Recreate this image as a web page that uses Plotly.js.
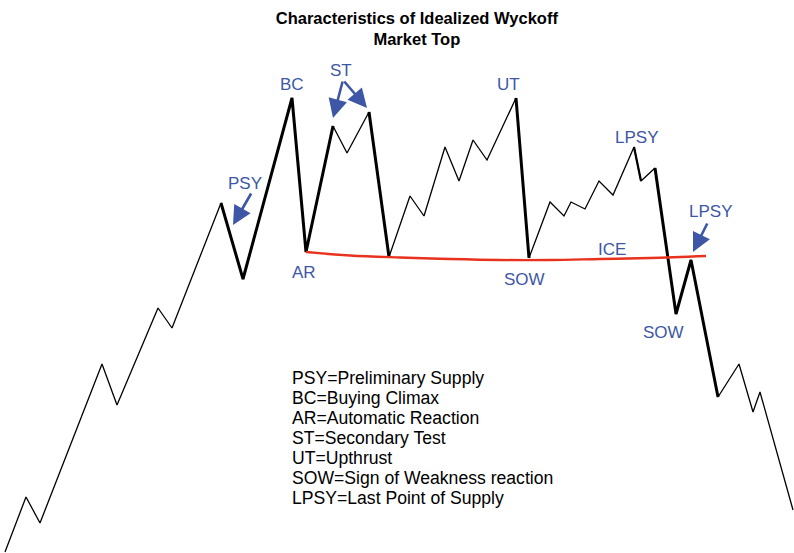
<!DOCTYPE html>
<html>
<head>
<meta charset="utf-8">
<script src="https://cdn.plot.ly/plotly-3.0.1.min.js"></script>
<style>
  html, body { margin: 0; padding: 0; background: #fff; }
  #chart { width: 794px; height: 553px; }
</style>
</head>
<body>
<div id="chart"></div>
<script>
// idealized price path (time, price)
const pathTime  = [5, 26, 40, 102, 117, 158, 172, 221, 243, 292, 306, 333, 347, 369, 389, 410, 424, 445, 459, 473, 487, 516, 529, 550, 564, 571, 585, 599, 613, 634, 641, 655, 676, 691, 718, 739, 753, 760, 793];
const pathPrice = [1, 56, 30, 189, 148, 245, 225, 350, 274, 455, 301, 427, 400, 441, 296, 357, 337, 406, 372, 413, 393, 455, 295, 351, 337, 351, 344, 372, 358, 406, 372, 385, 239, 293, 156, 189, 141, 161, 43];

// legs drawn heavy: [from index, to index, weight]
const heavyLegs = [[7, 11, 3], [13, 14, 3], [21, 22, 3], [29, 30, 2.2], [31, 34, 3]];

// ICE support line
const iceTime  = [306, 350, 400, 450, 500, 550, 600, 650, 706];
const icePrice = [301, 297.5, 295.5, 294, 293, 293, 294, 295, 297];

const legendLines = [
  "PSY=Preliminary Supply",
  "BC=Buying Climax",
  "AR=Automatic Reaction",
  "ST=Secondary Test",
  "UT=Upthrust",
  "SOW=Sign of Weakness reaction",
  "LPSY=Last Point of Supply"
];

const blue = "#3d56a6";
const font = "Liberation Sans, Arial, Helvetica, sans-serif";

let traces = [];
traces.push({ x: pathTime, y: pathPrice, type: "scatter", mode: "lines",
  line: { color: "#000", width: 1.3 }, hoverinfo: "skip" });

heavyLegs.forEach(function (leg) {
  traces.push({
    x: pathTime.slice(leg[0], leg[1] + 1),
    y: pathPrice.slice(leg[0], leg[1] + 1),
    type: "scatter", mode: "lines",
    line: { color: "#000", width: leg[2] }, hoverinfo: "skip"
  });
});

traces.push({ x: iceTime, y: icePrice, type: "scatter", mode: "lines",
  line: { color: "#e8321e", width: 2.4, shape: "spline" }, hoverinfo: "skip" });

function label(text, x, y) {
  return { text: text, x: x, y: y, xref: "x", yref: "y", showarrow: false,
    font: { family: font, size: 17, color: blue } };
}
function arrow(x, y, ax, ay) {
  return { text: "", x: x, y: y, xref: "x", yref: "y", ax: ax, ay: ay,
    showarrow: true, arrowhead: 2, arrowsize: 1.45, arrowwidth: 2.6,
    arrowcolor: blue, standoff: 0 };
}

let annotations = [
  label("PSY", 245, 370),
  label("BC", 292, 469),
  label("ST", 341, 483),
  label("AR", 304, 281),
  label("UT", 508, 469),
  label("SOW", 524, 274),
  label("ICE", 612, 304),
  label("LPSY", 636, 416),
  label("LPSY", 710, 342),
  label("SOW", 663, 221),
  arrow(233, 328, 19, -33),
  arrow(333, 435, 10, -38),
  arrow(367, 445, -24, -28),
  arrow(693, 301, 15, -30)
];

// key text, one line every 20 units
legendLines.forEach(function (line, i) {
  annotations.push({ text: line, x: 290, y: 175 - i * 20, xref: "x", yref: "y",
    xanchor: "left", yanchor: "middle", align: "left", showarrow: false,
    font: { family: font, size: 17.6, color: "#000" } });
});

let layout = {
  width: 794, height: 553,
  margin: { l: 0, r: 0, t: 0, b: 0 },
  paper_bgcolor: "#fff", plot_bgcolor: "#fff",
  showlegend: false,
  title: {
    text: "<b>Characteristics of Idealized Wyckoff<br>Market Top</b>",
    font: { family: font, size: 16.5, color: "#000" },
    x: 0.525, xanchor: "center", y: 0.957, yanchor: "top"
  },
  xaxis: { range: [0, 794], visible: false, fixedrange: true },
  yaxis: { range: [0, 553], visible: false, fixedrange: true },
  annotations: annotations
};

Plotly.newPlot("chart", traces, layout, { staticPlot: true });
</script>
</body>
</html>
